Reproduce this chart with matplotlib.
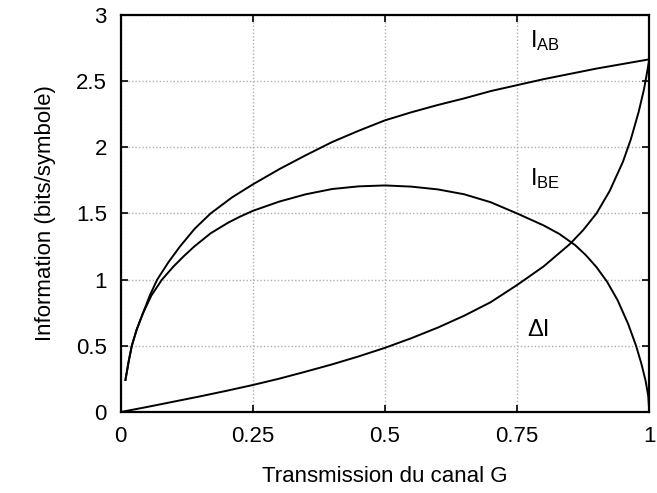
import matplotlib
matplotlib.use("Agg")
import matplotlib.pyplot as plt

plt.rcParams['font.family'] = ['Liberation Sans', 'DejaVu Sans']
plt.rcParams['mathtext.fontset'] = 'custom'
plt.rcParams['mathtext.rm'] = 'Liberation Sans'
plt.rcParams['mathtext.it'] = 'Liberation Sans'

# Data
g_ab = [0.009, 0.015, 0.021, 0.03, 0.042, 0.055, 0.069, 0.09, 0.112, 0.14, 0.170, 0.21,
        0.25, 0.30, 0.35, 0.40, 0.45, 0.50, 0.55, 0.60, 0.65, 0.70, 0.75, 0.80, 0.85,
        0.90, 0.95, 1.0]
i_ab = [0.242, 0.38, 0.50, 0.62, 0.745, 0.88, 1.00, 1.13, 1.25, 1.385, 1.50, 1.62,
        1.72, 1.835, 1.94, 2.04, 2.125, 2.204, 2.265, 2.32, 2.37, 2.425, 2.47, 2.515, 2.555,
        2.595, 2.63, 2.665]

g_be = [0.009, 0.015, 0.021, 0.03, 0.042, 0.058, 0.078, 0.10, 0.12, 0.139, 0.17, 0.203,
        0.225, 0.25, 0.30, 0.35, 0.40, 0.45, 0.50, 0.55, 0.60, 0.65, 0.70, 0.75, 0.80, 0.83,
        0.86, 0.88, 0.90, 0.92, 0.94, 0.96, 0.975, 0.985, 0.993, 0.998, 1.0]
i_be = [0.242, 0.38, 0.50, 0.62, 0.745, 0.88, 1.00, 1.10, 1.18, 1.25, 1.35, 1.43,
        1.475, 1.52, 1.59, 1.645, 1.685, 1.705, 1.712, 1.703, 1.682, 1.645, 1.585, 1.50, 1.41, 1.345,
        1.26, 1.185, 1.095, 0.985, 0.845, 0.665, 0.50, 0.365, 0.235, 0.12, 0.0]

g_d = [0.0, 0.05, 0.1, 0.15, 0.2, 0.25, 0.3, 0.35, 0.4, 0.45, 0.5, 0.55, 0.6, 0.65,
       0.7, 0.75, 0.8, 0.85, 0.875, 0.9, 0.925, 0.95, 0.965, 0.98, 0.99, 0.995, 1.0]
d_i = [0.0, 0.038, 0.078, 0.118, 0.16, 0.204, 0.252, 0.305, 0.36, 0.42, 0.485, 0.558, 0.638, 0.728,
       0.83, 0.96, 1.10, 1.27, 1.375, 1.50, 1.67, 1.89, 2.06, 2.27, 2.44, 2.55, 2.665]

xticks = [0, 0.25, 0.5, 0.75, 1]
xtick_labels = ["0", "0.25", "0.5", "0.75", "1"]
yticks = [0, 0.5, 1, 1.5, 2, 2.5, 3]
ytick_labels = ["0", "0.5", "1", "1.5", "2", "2.5", "3"]

fig = plt.figure(figsize=(6.57, 4.93), dpi=100)
ax = fig.add_axes([0.1837, 0.1643, 0.8046, 0.8053])

for xs, ys in [(g_ab, i_ab), (g_be, i_be), (g_d, d_i)]:
    ax.plot(xs, ys, color='black', lw=1.4, zorder=3, solid_joinstyle='round')

ax.set_xlim(0, 1)
ax.set_ylim(0, 3)
ax.set_xticks(xticks)
ax.set_xticklabels(xtick_labels)
ax.set_yticks(yticks)
ax.set_yticklabels(ytick_labels)
ax.tick_params(direction='in', length=5, width=1.2, top=True, right=True,
               labelsize=16, pad=10)
ax.grid(True, color='#b0b0b0', linestyle=(0, (1, 1.5)), lw=1.0)
for s in ax.spines.values():
    s.set_linewidth(1.6)

ax.set_xlabel("Transmission du canal G", fontsize=16, labelpad=14)
ax.set_ylabel("Information (bits/symbole)", fontsize=16, labelpad=14)

ax.text(0.774, 2.755, r"$\mathregular{I_{AB}}$", fontsize=17, va='baseline', ha='left')
ax.text(0.774, 1.713, r"$\mathregular{I_{BE}}$", fontsize=17, va='baseline', ha='left')
ax.text(0.769, 0.574, "\u0394I", fontsize=17, va='baseline', ha='left')

fig.savefig("out.png", dpi=100)
